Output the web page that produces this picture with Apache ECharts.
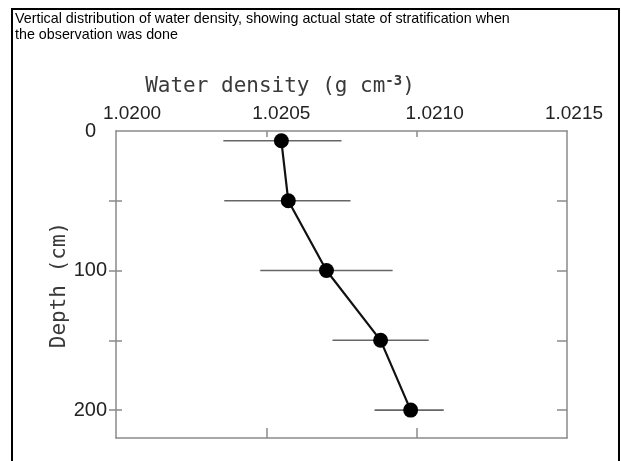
<!DOCTYPE html>
<html>
<head>
<meta charset="utf-8">
<script src="https://cdn.jsdelivr.net/npm/echarts@6/dist/echarts.min.js"></script>
<style>
  html, body { margin: 0; padding: 0; background: #fff; }
  #chart { width: 621px; height: 461px; }
</style>
</head>
<body>
<div id="chart"></div>
<script>
// ========================================
// data
// ========================================

const depths = [7, 50, 100, 150, 200];
const density = [1.02055, 1.020573, 1.02070, 1.02088, 1.02098];
const errLow = [1.020357, 1.02036, 1.02048, 1.02072, 1.02086];
const errHigh = [1.02075, 1.02078, 1.02092, 1.02104, 1.02109];

const xLabels = [1.0200, 1.0205, 1.0210, 1.0215];
const xTicks = [1.0205, 1.0210];
const yLabels = [0, 100, 200];
const yTicks = [50, 100, 150, 200];

// hand-lettered labels sit a bit off their ticks
const xLabelShift = [16, 15, 18, 7];
const yLabelShift = [11, 0, 0];

const titleText =
    "Vertical distribution of water density, showing actual state of stratification when\n" +
    "the observation was done";

// ========================================
// chart
// ========================================

const chart = echarts.init(document.getElementById("chart"));

const axisGray = "#8a8a8a";
const numFont = "'Liberation Sans', Arial, sans-serif";
const monoFont = "'DejaVu Sans Mono', monospace";

function xRich() {
    const rich = {};
    xLabelShift.forEach((s, i) => {
        rich["x" + i] = {
            fontFamily: numFont,
            fontSize: 19,
            color: "#222",
            padding: [0, 0, 0, s * 2]
        };
    });
    return rich;
}

function yRich() {
    const rich = {};
    yLabelShift.forEach((s, i) => {
        rich["y" + i] = {
            fontFamily: numFont,
            fontSize: 20,
            color: "#222",
            padding: [0, s, 0, 0]
        };
    });
    return rich;
}

const errData = depths.map((d, i) => [errLow[i], errHigh[i], d]);
const pointData = depths.map((d, i) => [density[i], d]);

// shared look of the frame lines
const frameLine = { show: true, onZero: false, lineStyle: { color: axisGray, width: 1.5 } };
const tickStyle = { color: axisGray, width: 1.5 };

chart.setOption({
    animation: false,
    grid: {
        left: 116,
        right: 54,
        top: 131,
        bottom: 23
    },
    graphic: [
        {
            type: "rect",
            shape: { x: 12, y: 9, width: 607, height: 470 },
            style: { fill: "none", stroke: "#000", lineWidth: 2 },
            z: 100
        },
        {
            type: "text",
            left: 15,
            top: 11,
            style: {
                text: titleText,
                font: "14.3px 'Liberation Sans', Arial, sans-serif",
                fill: "#000",
                lineHeight: 16
            }
        },
        {
            type: "text",
            x: 280,
            y: 100,
            style: {
                text: "Water density (g cm{s|-3})",
                fontFamily: monoFont,
                fontSize: 21,
                fill: "#3a3a3a",
                textAlign: "center",
                textVerticalAlign: "bottom",
                rich: {
                    s: {
                        fontFamily: monoFont,
                        fontSize: 14,
                        fontWeight: "bold",
                        fill: "#3a3a3a",
                        verticalAlign: "top",
                        padding: [0, 0, 12, 0]
                    }
                }
            }
        },
        {
            type: "text",
            x: 60,
            y: 285,
            rotation: Math.PI / 2,
            style: {
                text: "Depth (cm)",
                fontFamily: monoFont,
                fontSize: 21,
                fill: "#3a3a3a",
                textAlign: "center",
                textVerticalAlign: "middle"
            }
        }
    ],
    xAxis: [
        {
            type: "value",
            position: "top",
            min: 1.0200,
            max: 1.0215,
            axisLine: frameLine,
            axisTick: {
                show: true,
                inside: true,
                length: 6,
                customValues: xTicks,
                lineStyle: tickStyle
            },
            axisLabel: {
                show: true,
                margin: 8,
                customValues: xLabels,
                formatter: v => {
                    const i = xLabels.findIndex(t => Math.abs(t - v) < 1e-7);
                    return "{x" + i + "|" + v.toFixed(4) + "}";
                },
                rich: xRich()
            },
            splitLine: { show: false }
        },
        {
            type: "value",
            position: "bottom",
            min: 1.0200,
            max: 1.0215,
            axisLine: frameLine,
            axisTick: {
                show: true,
                inside: true,
                length: 10,
                customValues: xTicks,
                lineStyle: tickStyle
            },
            axisLabel: { show: false },
            splitLine: { show: false }
        }
    ],
    yAxis: [
        {
            type: "value",
            position: "left",
            inverse: true,
            min: 0,
            max: 220,
            axisLine: frameLine,
            axisTick: {
                show: true,
                length: 7,
                customValues: yTicks,
                lineStyle: tickStyle
            },
            axisLabel: {
                show: true,
                margin: 9,
                customValues: yLabels,
                formatter: v => {
                    const i = yLabels.indexOf(v);
                    return "{y" + i + "|" + v + "}";
                },
                rich: yRich()
            },
            splitLine: { show: false }
        },
        {
            type: "value",
            position: "left",
            inverse: true,
            min: 0,
            max: 220,
            axisLine: { show: false, onZero: false },
            axisTick: {
                show: true,
                inside: true,
                length: 6,
                customValues: yTicks,
                lineStyle: tickStyle
            },
            axisLabel: { show: false },
            splitLine: { show: false }
        },
        {
            type: "value",
            position: "right",
            inverse: true,
            min: 0,
            max: 220,
            axisLine: frameLine,
            axisTick: {
                show: true,
                inside: true,
                length: 10,
                customValues: yTicks,
                lineStyle: tickStyle
            },
            axisLabel: { show: false },
            splitLine: { show: false }
        }
    ],
    series: [
        {
            name: "range",
            type: "custom",
            xAxisIndex: 0,
            yAxisIndex: 0,
            renderItem: (params, api) => {
                const a = api.coord([api.value(0), api.value(2)]);
                const b = api.coord([api.value(1), api.value(2)]);
                return {
                    type: "line",
                    shape: { x1: a[0], y1: a[1], x2: b[0], y2: b[1] },
                    style: { stroke: "#666", lineWidth: 1.6 }
                };
            },
            encode: { x: [0, 1], y: 2 },
            data: errData,
            z: 2
        },
        {
            name: "density",
            type: "line",
            xAxisIndex: 0,
            yAxisIndex: 0,
            data: pointData,
            symbol: "circle",
            symbolSize: 15,
            lineStyle: { color: "#111", width: 2.2 },
            itemStyle: { color: "#000" },
            z: 3
        }
    ]
});
</script>
</body>
</html>
